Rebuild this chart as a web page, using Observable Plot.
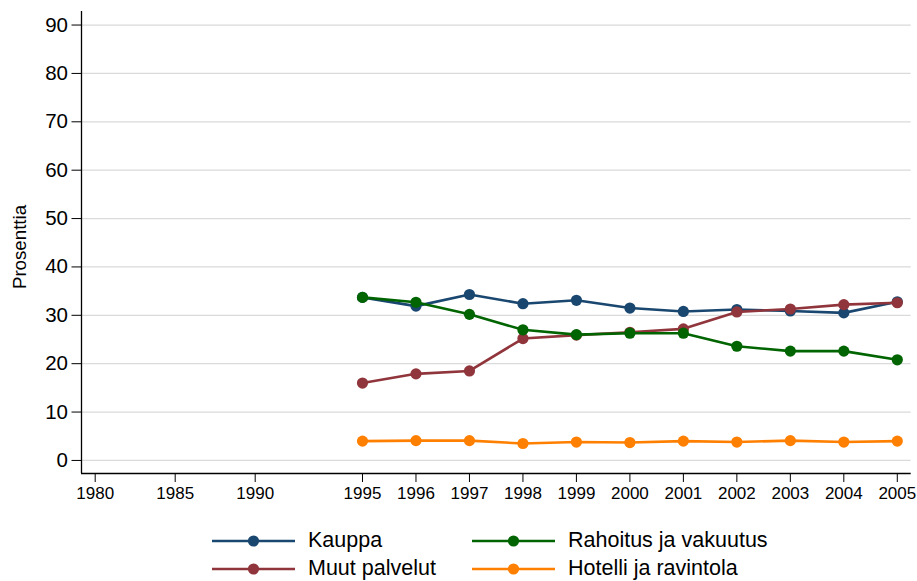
<!DOCTYPE html>
<html>
<head>
<meta charset="utf-8">
<script src="https://cdn.jsdelivr.net/npm/d3@7"></script>
<script src="https://cdn.jsdelivr.net/npm/@observablehq/plot@0.6"></script>
<style>
  html, body { margin: 0; padding: 0; background: #fff; }
  body { width: 917px; height: 581px; overflow: hidden; position: relative; font-family: "Liberation Sans", Arial, sans-serif; }
  #legend { position: absolute; left: 0; top: 510px; width: 917px; height: 71px; }
  .item { position: absolute; display: flex; align-items: center; height: 24px; font-size: 21.5px; line-height: 1; color: #000; white-space: nowrap; }
  .item svg { margin-right: 13px; }
</style>
</head>
<body>
<div id="chart"></div>
<div id="legend"></div>
<script>
// ---- data ----
const years = [1995, 1996, 1997, 1998, 1999, 2000, 2001, 2002, 2003, 2004, 2005];
const kauppa   = [33.7, 31.9, 34.3, 32.4, 33.1, 31.5, 30.8, 31.2, 30.9, 30.5, 32.8];
const muut     = [16.0, 17.9, 18.5, 25.2, 25.9, 26.5, 27.2, 30.7, 31.3, 32.2, 32.6];
const rahoitus = [33.7, 32.7, 30.2, 27.0, 26.0, 26.3, 26.3, 23.6, 22.6, 22.6, 20.8];
const hotelli  = [4.0, 4.1, 4.1, 3.5, 3.8, 3.7, 4.0, 3.8, 4.1, 3.8, 4.0];
const seriesNames = ["Kauppa", "Muut palvelut", "Rahoitus ja vakuutus", "Hotelli ja ravintola"];
const seriesValues = [kauppa, muut, rahoitus, hotelli];
const seriesColors = ["#1a476f", "#90353b", "#006400", "#ff7f00"];
const xTicks = [1980, 1985, 1990, 1995, 1996, 1997, 1998, 1999, 2000, 2001, 2002, 2003, 2004, 2005];
const yTicks = [0, 10, 20, 30, 40, 50, 60, 70, 80, 90];
const yLabel = "Prosenttia";
const legendOrder = [[0, 2], [1, 3]]; // rows of series indices

// ---- layout ----
const W = 917, H = 510;
const mL = 81, mR = 6.3, mT = 11, mB = 37;
const xDomain = [1979.144, 1990, 1995, 2005.26];
const xRange = [mL, 254.7, 362, W - mR];
const yDomain = [-2.7, 92.8];

const marks = [
  Plot.ruleY(yTicks, {stroke: "#dadada", strokeWidth: 1.3}),
  Plot.ruleY([yDomain[0]], {stroke: "#000", strokeWidth: 1.3}),
  Plot.ruleX([xDomain[0]], {stroke: "#000", strokeWidth: 1.3}),
  Plot.axisX({ticks: xTicks, tickFormat: d => String(d), tickSize: 9, tickPadding: 4, fontSize: 17, label: null}),
  Plot.axisY({ticks: yTicks, tickSize: 9.5, tickPadding: 4, fontSize: 20.5, label: null})
];
seriesValues.forEach((vals, i) => {
  const rows = years.map((yr, j) => ({year: yr, value: vals[j]}));
  marks.push(Plot.line(rows, {x: "year", y: "value", stroke: seriesColors[i], strokeWidth: 2.6}));
  marks.push(Plot.dot(rows, {x: "year", y: "value", fill: seriesColors[i], r: 5.6}));
});

const chart = Plot.plot({
  width: W, height: H,
  marginLeft: mL, marginRight: mR, marginTop: mT, marginBottom: mB,
  style: {fontFamily: "'Liberation Sans', Arial, sans-serif", color: "#000", background: "#fff", overflow: "visible"},
  x: {type: "linear", domain: xDomain, range: xRange},
  y: {domain: yDomain},
  marks
});
document.getElementById("chart").appendChild(chart);

// y axis title
d3.select(chart).append("text")
  .attr("transform", `translate(26,${(mT + (H - mB)) / 2 + 5}) rotate(-90)`)
  .attr("text-anchor", "middle")
  .style("font-size", "18.7px")
  .attr("font-family", "'Liberation Sans', Arial, sans-serif")
  .attr("fill", "#000")
  .text(yLabel);

// ---- legend ----
const legend = document.getElementById("legend");
const colX = [212, 472];
const rowY = [19, 47];
legendOrder.forEach((row, r) => {
  row.forEach((si, c) => {
    const item = document.createElement("div");
    item.className = "item";
    item.style.left = colX[c] + "px";
    item.style.top = rowY[r] + "px";
    const ns = "http://www.w3.org/2000/svg";
    const sw = document.createElementNS(ns, "svg");
    sw.setAttribute("width", 83); sw.setAttribute("height", 24);
    const ln = document.createElementNS(ns, "line");
    ln.setAttribute("x1", 0); ln.setAttribute("x2", 83); ln.setAttribute("y1", 12); ln.setAttribute("y2", 12);
    ln.setAttribute("stroke", seriesColors[si]); ln.setAttribute("stroke-width", 2.6);
    const ci = document.createElementNS(ns, "circle");
    ci.setAttribute("cx", 41.5); ci.setAttribute("cy", 12); ci.setAttribute("r", 5.6); ci.setAttribute("fill", seriesColors[si]);
    sw.appendChild(ln); sw.appendChild(ci);
    item.appendChild(sw);
    const sp = document.createElement("span");
    sp.textContent = seriesNames[si];
    item.appendChild(sp);
    legend.appendChild(item);
  });
});
</script>
</body>
</html>
